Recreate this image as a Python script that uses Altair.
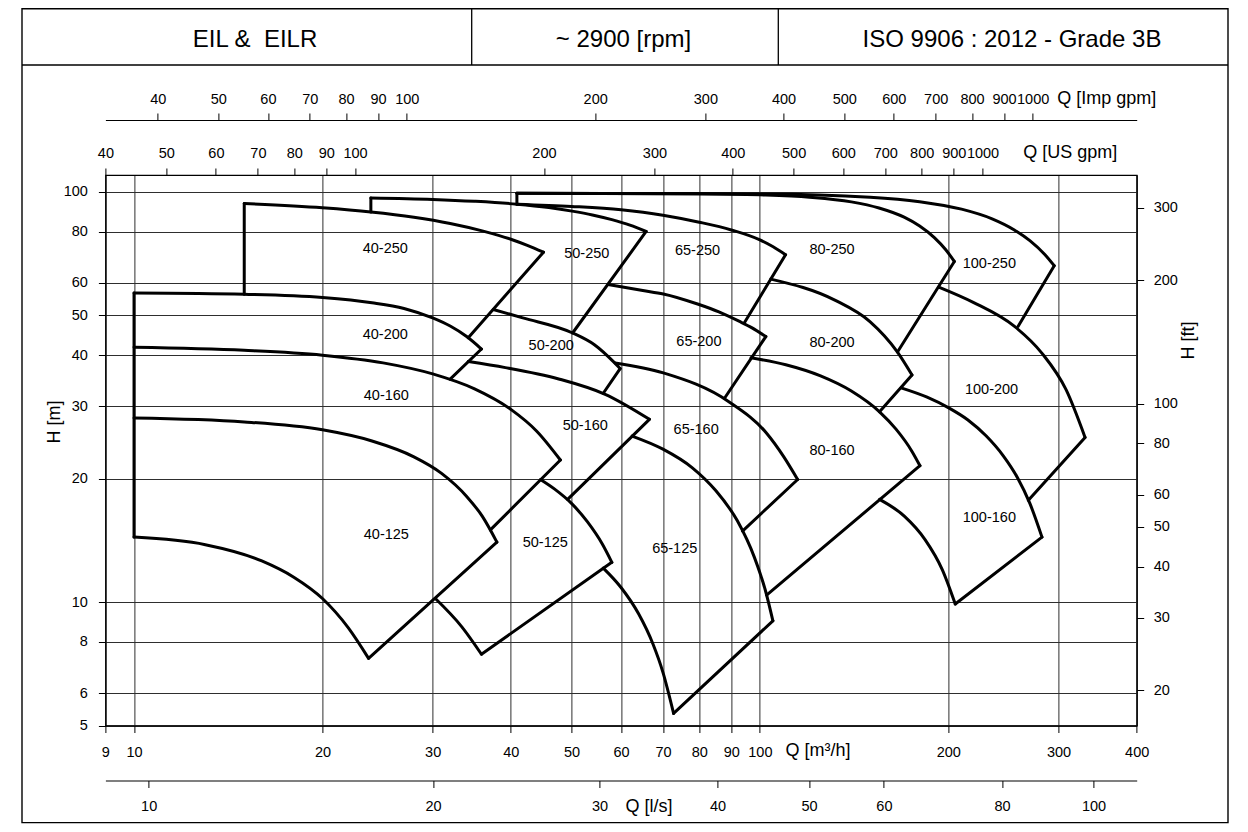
import altair as alt
import pandas as pd

FONT = "Liberation Sans, Arial, Helvetica, sans-serif"

# ---------------- header / titles ----------------
header_texts = ["EIL & \u00a0EILR", "~ 2900 [rpm]", "ISO 9906 : 2012 - Grade 3B"]

# ---------------- axes ----------------
q_domain = [9, 400]          # m3/h
h_domain = [5, 110]          # m
imp_domain = [33.0, 1466.5]  # Imp gpm
us_domain = [40, 1761]       # US gpm
ls_domain = [9, 111.1]       # l/s (as printed)
ft_domain = [16.4, 360.9]    # ft

q_ticks = [9, 10, 20, 30, 40, 50, 60, 70, 80, 90, 100, 200, 300, 400]
h_ticks = [5, 6, 8, 10, 20, 30, 40, 50, 60, 80, 100]
imp_ticks = [40, 50, 60, 70, 80, 90, 100, 200, 300, 400, 500, 600, 700, 800, 900, 1000]
us_ticks = [40, 50, 60, 70, 80, 90, 100, 200, 300, 400, 500, 600, 700, 800, 900, 1000]
ls_ticks = [10, 20, 30, 40, 50, 60, 80, 100]
ft_ticks = [20, 30, 40, 50, 60, 80, 100, 200, 300]

# ---------------- curves (Q m3/h, H m) ----------------
Q_40_250 = [15.0, 20.0, 23.9, 28.0, 32.0, 36.0, 40.0, 42.5, 45.1]
H_40_250 = [93.7, 91.5, 89.4, 86.8, 83.8, 80.4, 76.7, 74.1, 71.3]
Q_50_250 = [23.9, 30.0, 35.0, 40.9, 46.0, 50.1, 54.0, 58.0, 62.0, 65.8]
H_50_250 = [96.7, 95.9, 94.9, 93.4, 91.6, 89.8, 87.9, 85.6, 83.0, 80.1]
Q_65_250 = [40.9, 50.0, 60.0, 70.0, 80.0, 90.0, 100.0, 105.0, 109.9]
H_65_250 = [93.4, 92.2, 90.5, 87.8, 84.4, 80.8, 76.4, 73.5, 70.3]
Q_80_250 = [40.9, 80.0, 100.0, 120.0, 140.0, 155.0, 170.0, 180.0, 190.0, 198.0, 204.5]
H_80_250 = [99.3, 99.0, 98.4, 97.1, 94.6, 91.4, 86.8, 82.6, 77.4, 72.4, 67.7]
Q_100_250 = [40.9, 100.0, 150.0, 180.0, 210.0, 235.0, 255.0, 270.0, 285.0, 295.3]
H_100_250 = [99.3, 98.9, 97.1, 94.7, 90.8, 86.0, 80.8, 76.1, 70.5, 66.1]

Q_40_200 = [10.0, 15.0, 20.0, 24.0, 27.0, 30.0, 32.0, 34.0, 35.9]
H_40_200 = [56.7, 56.3, 55.3, 53.7, 52.0, 49.3, 47.1, 44.4, 41.4]
Q_50_200 = [37.5, 41.8, 50.2, 54.4, 58.5, 59.8]
H_50_200 = [51.7, 49.3, 45.3, 42.4, 38.4, 37.1]
Q_65_200 = [57.2, 65.0, 70.1, 79.5, 86.0, 92.6, 97.0, 102.2]
H_65_200 = [59.5, 57.5, 56.4, 53.3, 51.0, 48.4, 46.7, 44.4]
Q_80_200 = [104.1, 132.0, 149.9, 165.9, 175.0]
H_80_200 = [61.3, 54.4, 48.3, 40.7, 35.8]
Q_100_200 = [193.1, 219.2, 255.2, 282.4, 308.6, 330.8]
H_100_200 = [58.6, 53.8, 47.0, 40.4, 32.9, 25.2]

Q_40_160 = [10.0, 15.0, 20.0, 25.0, 30.0, 35.0, 40.0, 44.0, 48.0]
H_40_160 = [41.8, 41.1, 40.0, 38.3, 36.0, 33.1, 29.5, 26.1, 22.2]
Q_50_160 = [34.2, 39.2, 47.7, 56.6, 66.6]
H_50_160 = [38.6, 37.3, 35.0, 32.1, 27.9]
Q_65_160 = [58.7, 70.1, 89.2, 102.5, 109.2, 114.9]
H_65_160 = [38.3, 36.2, 30.8, 25.8, 22.6, 19.9]
Q_80_160 = [96.8, 110.0, 125.0, 140.0, 155.3, 165.0, 175.0, 180.2]
H_80_160 = [39.4, 37.9, 35.6, 32.7, 29.1, 26.4, 23.3, 21.5]
Q_100_160 = [168.1, 185.0, 200.0, 215.0, 230.0, 245.0, 258.0, 270.0, 282.3]
H_100_160 = [33.3, 31.6, 29.8, 27.8, 25.4, 22.7, 20.1, 17.4, 14.4]
Q_100_160_min = [155.3, 170.1, 183.6, 195.6, 205.2]
H_100_160_min = [17.8, 16.2, 14.2, 12.0, 9.89]

Q_40_125 = [10.0, 15.0, 20.0, 24.0, 28.0, 31.0, 34.0, 36.0, 38.0]
H_40_125 = [28.1, 27.5, 26.3, 24.7, 22.6, 20.6, 18.1, 16.2, 14.0]
Q_40_125_min = [10.0, 13.0, 16.0, 18.0, 20.0, 22.0, 23.7]
H_40_125_min = [14.4, 13.8, 12.6, 11.5, 10.2, 8.65, 7.29]
Q_50_125 = [44.6, 47.0, 50.0, 53.0, 56.0, 58.0]
H_50_125 = [19.9, 18.85, 17.4, 15.7, 13.85, 12.5]
Q_50_125_min = [30.3, 33.4, 35.9]
H_50_125_min = [10.2, 8.70, 7.46]
Q_65_125 = [62.5, 70.0, 78.0, 85.0, 92.0, 98.0, 102.0, 104.9]
H_65_125 = [25.4, 23.6, 21.25, 18.7, 15.8, 12.85, 10.7, 9.0]
Q_65_125_min = [56.2, 60.0, 64.0, 67.5, 70.0, 72.8]
H_65_125_min = [12.1, 10.85, 9.36, 7.89, 6.74, 5.35]

# straight boundary segments (right edges of envelopes + left verticals)
edge_q1 = [45.1, 65.8, 109.9, 204.5, 295.3, 35.9, 59.8, 102.2, 175.0, 330.8,
           48.0, 66.6, 114.9, 180.2, 282.3, 38.0, 58.0, 104.9,
           10.0, 15.0, 23.9, 40.9]
edge_h1 = [71.3, 80.1, 70.3, 67.7, 66.1, 41.4, 37.1, 44.4, 35.8, 25.2,
           22.2, 27.9, 19.9, 21.5, 14.4, 14.0, 12.5, 9.00,
           14.4, 56.3, 89.4, 93.4]
edge_q2 = [34.2, 50.2, 94.4, 165.9, 258.5, 32.0, 56.2, 87.8, 155.3, 268.5,
           37.1, 49.3, 93.8, 102.5, 205.2, 23.7, 35.9, 72.8,
           10.0, 15.0, 23.9, 40.9]
edge_h2 = [44.1, 45.3, 47.9, 40.7, 47.0, 34.95, 32.3, 31.4, 29.1, 17.7,
           15.0, 17.8, 14.9, 10.4, 9.89, 7.29, 7.46, 5.35,
           56.7, 93.7, 96.7, 99.3]

# region labels
label_names = ["40-250", "50-250", "65-250", "80-250", "100-250",
               "40-200", "50-200", "65-200", "80-200", "100-200",
               "40-160", "50-160", "65-160", "80-160", "100-160",
               "40-125", "50-125", "65-125"]
label_q = [25.2, 52.9, 79.5, 130.4, 232.6,
           25.2, 46.4, 79.9, 130.4, 234.5,
           25.3, 52.6, 79.1, 130.4, 232.6,
           25.3, 45.4, 73.1]
label_h = [72.6, 70.7, 71.7, 72.3, 66.9,
           44.9, 42.0, 43.1, 42.9, 32.9,
           31.8, 26.8, 26.3, 23.4, 16.0,
           14.6, 13.9, 13.5]

# ---------------- build tables ----------------
curve_list = [
    ("40-250", Q_40_250, H_40_250), ("50-250", Q_50_250, H_50_250),
    ("65-250", Q_65_250, H_65_250), ("80-250", Q_80_250, H_80_250),
    ("100-250", Q_100_250, H_100_250),
    ("40-200", Q_40_200, H_40_200), ("50-200", Q_50_200, H_50_200),
    ("65-200", Q_65_200, H_65_200), ("80-200", Q_80_200, H_80_200),
    ("100-200", Q_100_200, H_100_200),
    ("40-160", Q_40_160, H_40_160), ("50-160", Q_50_160, H_50_160),
    ("65-160", Q_65_160, H_65_160), ("80-160", Q_80_160, H_80_160),
    ("100-160", Q_100_160, H_100_160), ("100-160 min", Q_100_160_min, H_100_160_min),
    ("40-125", Q_40_125, H_40_125), ("40-125 min", Q_40_125_min, H_40_125_min),
    ("50-125", Q_50_125, H_50_125), ("50-125 min", Q_50_125_min, H_50_125_min),
    ("65-125", Q_65_125, H_65_125), ("65-125 min", Q_65_125_min, H_65_125_min),
]
rows = []
for name, qs, hs in curve_list:
    for i, (q, h) in enumerate(zip(qs, hs)):
        rows.append({"curve": name, "i": i, "Q": q, "H": h})
curves_df = pd.DataFrame(rows)
edges_df = pd.DataFrame({"Q": edge_q1, "H": edge_h1, "Q2": edge_q2, "H2": edge_h2})
labels_df = pd.DataFrame({"name": label_names, "Q": label_q, "H": label_h})
one = pd.DataFrame({"k": [0]})

# ---------------- layout (plot area) ----------------
W, H = 1031.3, 550.5
PAD = {"left": 97.4, "top": 167, "right": 103.3, "bottom": 98.5}

LINE_W = 3.0
TICK_FS = 14.5

xq = alt.X("Q:Q", scale=alt.Scale(type="log", domain=q_domain, nice=False),
           axis=alt.Axis(orient="bottom", values=q_ticks, format="d", grid=True,
                         labelPadding=20, labelBaseline="middle",
                         title="Q [m³/h]", titleX=679.6, titleY=25,
                         titleAlign="left", titleBaseline="middle"))
yh = alt.Y("H:Q", scale=alt.Scale(type="log", domain=h_domain, nice=False),
           axis=alt.Axis(orient="left", values=h_ticks, format="d", grid=True,
                         labelPadding=11,
                         title="H [m]", titleX=-50.7, titleY=246.5, titleAngle=270,
                         titleAlign="center", titleBaseline="middle"))

curve_layer = alt.Chart(curves_df).mark_line(
    color="black", strokeWidth=LINE_W, interpolate="monotone",
    strokeJoin="round", strokeCap="round"
).encode(x=xq, y=yh, detail="curve:N", order="i:Q")

edge_layer = alt.Chart(edges_df).mark_rule(
    color="black", strokeWidth=LINE_W, strokeCap="round"
).encode(x=xq, y=yh, x2="Q2:Q", y2="H2:Q")

label_layer = alt.Chart(labels_df).mark_text(
    font=FONT, fontSize=14.5, color="black", align="center", baseline="middle"
).encode(x=xq, y=yh, text="name:N")

inner = alt.layer(curve_layer, edge_layer, label_layer)

imp_layer = alt.Chart(pd.DataFrame({"imp": imp_domain})).mark_point(opacity=0).encode(
    x=alt.X("imp:Q", scale=alt.Scale(type="log", domain=imp_domain, nice=False),
            axis=alt.Axis(orient="top", offset=55, values=imp_ticks, format="d", grid=False,
                          labelPadding=14, labelBaseline="middle",
                          title="Q [Imp gpm]", titleX=951.3, titleY=-21.5,
                          titleAlign="left", titleBaseline="middle")))
us_layer = alt.Chart(pd.DataFrame({"us": us_domain})).mark_point(opacity=0).encode(
    x=alt.X("us:Q", scale=alt.Scale(type="log", domain=us_domain, nice=False),
            axis=alt.Axis(orient="top", offset=0, values=us_ticks, format="d", grid=False,
                          labelPadding=15, labelBaseline="middle",
                          title="Q [US gpm]", titleX=917.3, titleY=-22.5,
                          titleAlign="left", titleBaseline="middle")))
ls_layer = alt.Chart(pd.DataFrame({"ls": ls_domain})).mark_point(opacity=0).encode(
    x=alt.X("ls:Q", scale=alt.Scale(type="log", domain=ls_domain, nice=False),
            axis=alt.Axis(orient="bottom", offset=55, values=ls_ticks, format="d", grid=False,
                          labelPadding=19, labelBaseline="middle",
                          title="Q [l/s]", titleX=519.6, titleY=25.5,
                          titleAlign="left", titleBaseline="middle")))
ft_layer = alt.Chart(pd.DataFrame({"ft": ft_domain})).mark_point(opacity=0).encode(
    y=alt.Y("ft:Q", scale=alt.Scale(type="log", domain=ft_domain, nice=False),
            axis=alt.Axis(orient="right", values=ft_ticks, format="d", grid=False,
                          labelPadding=9.5,
                          title="H [ft]", titleX=51.3, titleY=165, titleAngle=270,
                          titleAlign="center", titleBaseline="middle")))

# ---------------- frame / header ----------------
frame = alt.Chart(one).mark_rect(fillOpacity=0, stroke="black", strokeWidth=1.4).encode(
    x=alt.value(-83.4), x2=alt.value(1122.6), y=alt.value(-166.3), y2=alt.value(647.6))
header_line = alt.Chart(one).mark_rule(color="black", strokeWidth=1.3).encode(
    x=alt.value(-83.4), x2=alt.value(1122.6), y=alt.value(-110))
div1 = alt.Chart(one).mark_rule(color="black", strokeWidth=1.3).encode(
    x=alt.value(366.3), y=alt.value(-166.3), y2=alt.value(-110))
div2 = alt.Chart(one).mark_rule(color="black", strokeWidth=1.3).encode(
    x=alt.value(672.9), y=alt.value(-166.3), y2=alt.value(-110))

def header(txt, xc):
    return alt.Chart(one).mark_text(font=FONT, fontSize=24, color="black",
                                    align="center", baseline="middle").encode(
        x=alt.value(xc), y=alt.value(-135), text=alt.value(txt))

h1 = header(header_texts[0], 149.6)
h2 = header(header_texts[1], 518.1)
h3 = header(header_texts[2], 906.6)

chart = alt.layer(
    inner, imp_layer, us_layer, ls_layer, ft_layer,
    frame, header_line, div1, div2, h1, h2, h3
).resolve_scale(
    x="independent", y="independent"
).properties(
    width=W, height=H,
    autosize=alt.AutoSizeParams(type="none"),
    padding=PAD
).configure(
    font=FONT
).configure_view(
    stroke="black", strokeWidth=1.2
).configure_axis(
    labelFont=FONT, titleFont=FONT, labelFontSize=TICK_FS, titleFontSize=18,
    titleFontWeight="normal", labelColor="black", titleColor="black",
    domainColor="black", tickColor="black", tickSize=7, domainWidth=1.1,
    gridColor="#2e2e2e", gridWidth=1.0, labelFlush=False, labelOverlap=False
)

chart.save("out.html", embed_options={"renderer": "svg", "actions": False})
